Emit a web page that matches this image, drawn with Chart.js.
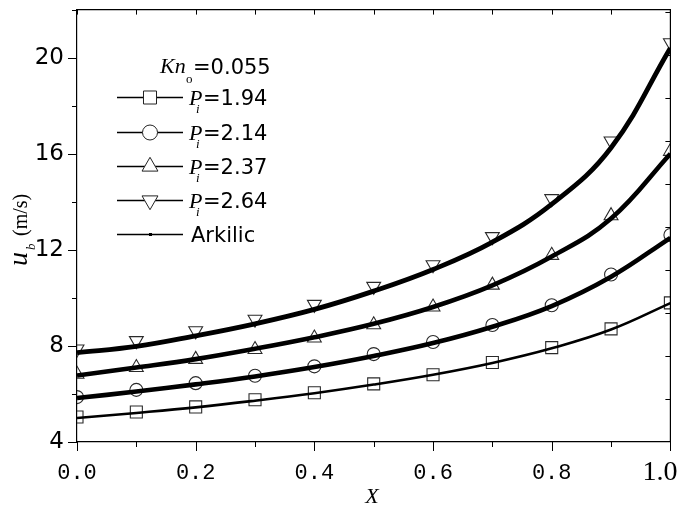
<!DOCTYPE html>
<html>
<head>
<meta charset="utf-8">
<title>u_b vs X</title>
<script src="https://cdn.jsdelivr.net/npm/chart.js@4.4.1/dist/chart.umd.min.js"></script>
<style>
  html, body { margin: 0; padding: 0; background: #fff; }
  #wrap { width: 680px; height: 507px; }
</style>
</head>
<body>
<div id="wrap"><canvas id="c" width="680" height="507"></canvas></div>
<script>
  "use strict";

  // Axial position (dimensionless)
  const xVals = [0, 0.1, 0.2, 0.3, 0.4, 0.5, 0.6, 0.7, 0.8, 0.9, 1.0];

  // u_b (m/s) at each inlet pressure, Kn_o = 0.055 (markers)
  const pi194 = [5.04, 5.25, 5.46, 5.76, 6.05, 6.42, 6.80, 7.31, 7.93, 8.71, 9.79];
  const pi214 = [5.87, 6.17, 6.45, 6.76, 7.15, 7.66, 8.16, 8.87, 9.69, 10.97, 12.62];
  const pi237 = [6.82, 7.10, 7.44, 7.85, 8.33, 8.88, 9.62, 10.53, 11.77, 13.42, 16.10];
  const pi264 = [7.87, 8.22, 8.63, 9.11, 9.73, 10.48, 11.38, 12.55, 14.13, 16.53, 20.62];

  // Arkilic analytical curves, same four cases
  const ark194 = [5.00, 5.21, 5.44, 5.72, 6.03, 6.39, 6.80, 7.29, 7.90, 8.68, 9.78];
  const ark214 = [5.83, 6.10, 6.40, 6.73, 7.12, 7.58, 8.12, 8.80, 9.66, 10.88, 12.50];
  const ark237 = [6.77, 7.10, 7.45, 7.88, 8.36, 8.92, 9.62, 10.52, 11.72, 13.30, 16.00];
  const ark264 = [7.72, 7.98, 8.42, 8.92, 9.52, 10.28, 11.18, 12.32, 13.90, 16.25, 20.40];

  const piLabels = ["1.94", "2.14", "2.37", "2.64"];
  const knValue = "0.055";

  const xTickLabels = ["0.0", "0.2", "0.4", "0.6", "0.8", "1.0"];
  const yTickLabels = ["4", "8", "12", "16", "20"];
  const rightTicks = [1, 2, 3, 4, 5, 6, 7, 8, 9, 10];

  const markerSets = [pi194, pi214, pi237, pi264];
  const arkSets = [ark194, ark214, ark237, ark264];
  const markerStyle = ["rect", "circle", "triangle", "triangle"];
  const markerRot = [0, 0, 0, 180];
  const markerRadius = [8.5, 6.5, 8, 8];
  const arkWidth = [2.6, 4.6, 4.6, 4.8];

  const pts = (ys) => xVals.map((x, i) => ({ x, y: ys[i] }));

  const SERIF = '"Liberation Serif", "Times New Roman", serif';
  const SANS = '"DejaVu Sans", sans-serif';
  const MONO = '"Liberation Mono", monospace';

  // legend marker, same geometry as chart.js points
  function legendMarker(ctx, style, x, y, r) {
    ctx.beginPath();
    if (style === "rect") {
      const s = r * Math.SQRT1_2;
      ctx.rect(x - s, y - s, 2 * s, 2 * s);
    } else if (style === "circle") {
      ctx.arc(x, y, r, 0, Math.PI * 2);
    } else {
      const d = style === "down" ? -1 : 1;
      ctx.moveTo(x, y - d * r);
      ctx.lineTo(x + r * 0.866, y + d * r / 2);
      ctx.lineTo(x - r * 0.866, y + d * r / 2);
      ctx.closePath();
    }
    ctx.fillStyle = "#fff";
    ctx.fill();
    ctx.stroke();
  }

  // top/right frame, all tick marks, titles and legend
  const decor = {
    id: "decor",
    afterDraw(chart) {
      const { ctx, chartArea: a, scales } = chart;
      const { x, y, y2 } = scales;
      ctx.save();
      ctx.strokeStyle = "#000";
      ctx.lineWidth = 1.2;

      ctx.beginPath();
      ctx.moveTo(a.left, a.top);
      ctx.lineTo(a.right, a.top);
      ctx.lineTo(a.right, a.bottom);
      ctx.stroke();

      ctx.lineWidth = 1;
      ctx.beginPath();
      xVals.forEach((v, i) => {
        const px = Math.round(x.getPixelForValue(v)) + 0.5;
        const len = i % 2 === 0 ? 9 : 5;
        ctx.moveTo(px, a.bottom);
        ctx.lineTo(px, a.bottom + len);
        ctx.moveTo(px, a.top);
        ctx.lineTo(px, a.top + 5);
      });
      for (let v = 4; v <= 22; v += 2) {
        const py = Math.round(y.getPixelForValue(v)) + 0.5;
        const len = v % 4 === 0 ? 9 : 5;
        ctx.moveTo(a.left, py);
        ctx.lineTo(a.left - len, py);
      }
      rightTicks.forEach((v) => {
        const py = Math.round(y2.getPixelForValue(v)) + 0.5;
        ctx.moveTo(a.right, py);
        ctx.lineTo(a.right - 5, py);
      });
      ctx.stroke();

      // axis titles
      ctx.fillStyle = "#000";
      ctx.textBaseline = "alphabetic";
      ctx.textAlign = "center";
      ctx.font = "italic 22px " + SERIF;
      ctx.fillText("X", 372, 503);

      ctx.save();
      ctx.translate(27, 266);
      ctx.rotate(-Math.PI / 2);
      ctx.textAlign = "left";
      ctx.font = "italic 28px " + SERIF;
      ctx.fillText("u", 0, 0);
      ctx.font = "italic 13px " + SERIF;
      ctx.fillText("b", 16, 8);
      ctx.font = "20px " + SERIF;
      ctx.fillText("(m/s)", 30, 0);
      ctx.restore();

      // legend
      ctx.textAlign = "left";
      ctx.font = "italic 22px " + SERIF;
      ctx.fillText("Kn", 160, 73);
      ctx.font = "13px " + SERIF;
      ctx.fillText("o", 186, 83);
      ctx.font = "21px " + SANS;
      ctx.fillText("=" + knValue, 193, 74);

      const rows = [97, 132, 166, 200];
      const legStyle = ["rect", "circle", "up", "down"];
      const legR = [9.2, 7.5, 9.2, 9.2];
      rows.forEach((ry, k) => {
        ctx.strokeStyle = "#000";
        ctx.lineWidth = 1.6;
        ctx.beginPath();
        ctx.moveTo(117, ry + 0.5);
        ctx.lineTo(183, ry + 0.5);
        ctx.stroke();
        ctx.lineWidth = 1;
        ctx.strokeStyle = "#222";
        legendMarker(ctx, legStyle[k], 150, ry + 0.5, legR[k]);
        ctx.fillStyle = "#000";
        ctx.font = "italic 22px " + SERIF;
        ctx.fillText("P", 189, ry + 8);
        ctx.font = "italic 13px " + SERIF;
        ctx.fillText("i", 196, ry + 16);
        ctx.font = "21px " + SANS;
        ctx.fillText("=" + piLabels[k], 203, ry + 8);
      });
      const ay = 234;
      ctx.strokeStyle = "#000";
      ctx.lineWidth = 1.6;
      ctx.beginPath();
      ctx.moveTo(117, ay + 0.5);
      ctx.lineTo(183, ay + 0.5);
      ctx.stroke();
      ctx.fillRect(149, ay - 1, 3, 3);
      ctx.font = "21px " + SANS;
      ctx.fillText("Arkilic", 191, ay + 8);

      ctx.restore();
    }
  };

  const datasets = [
    ...arkSets.map((ys, k) => ({
      label: "Arkilic",
      data: pts(ys),
      showLine: true,
      borderColor: "#000",
      backgroundColor: "#000",
      borderWidth: arkWidth[k],
      pointRadius: 0,
      tension: 0.4,
      fill: false,
      clip: 0,
      order: 0
    })),
    ...markerSets.map((ys, k) => ({
      label: "Pi=" + piLabels[k],
      data: pts(ys),
      showLine: false,
      pointStyle: markerStyle[k],
      pointRotation: markerRot[k],
      pointRadius: markerRadius[k],
      borderColor: "#2a2a2a",
      borderWidth: 1.1,
      backgroundColor: "rgba(255,255,255,0)",
      clip: 0,
      order: 1
    }))
  ];

  new Chart(document.getElementById("c"), {
    type: "scatter",
    data: { datasets },
    options: {
      responsive: false,
      animation: false,
      devicePixelRatio: 1,
      layout: { padding: { top: 6, right: 8, left: 0, bottom: 0 } },
      plugins: { legend: { display: false }, tooltip: { enabled: false } },
      scales: {
        x: {
          type: "linear",
          min: 0,
          max: 1,
          afterFit: (s) => { s.height = 65; s.paddingLeft = 0; s.paddingRight = 0; },
          grid: { display: false, drawTicks: false },
          border: { display: true, color: "#000", width: 1.2 },
          ticks: {
            stepSize: 0.1,
            autoSkip: false,
            maxRotation: 0,
            padding: 18,
            color: "#000",
            callback: (v, i) => {
              if (i % 2 !== 0) return "";
              const lab = xTickLabels[i / 2];
              return lab === "1.0" ? lab + "   " : lab;
            },
            font: (c) => (c.tick && c.tick.value >= 0.999)
              ? { family: SERIF, size: 28, lineHeight: 0.9 }
              : { family: MONO, size: 22 }
          }
        },
        y: {
          min: 4,
          max: 22,
          afterFit: (s) => { s.width = 77; s.paddingTop = 0; s.paddingBottom = 0; },
          grid: { display: false, drawTicks: false },
          border: { display: true, color: "#000", width: 1.2 },
          ticks: {
            stepSize: 2,
            padding: 13,
            color: "#000",
            font: { family: SANS, size: 23 },
            callback: (v) => (v % 4 === 0 && v <= 20) ? yTickLabels[(v - 4) / 4] : ""
          }
        },
        y2: {
          display: false,
          position: "right",
          min: 0,
          max: 10.06
        }
      }
    },
    plugins: [decor]
  });
</script>
</body>
</html>
